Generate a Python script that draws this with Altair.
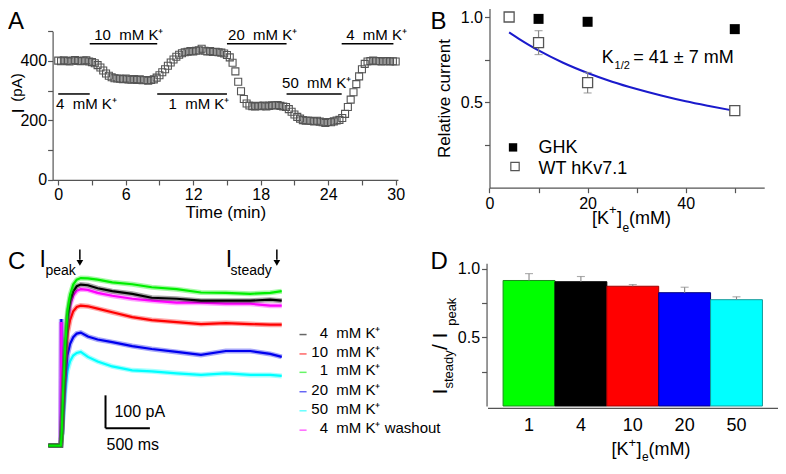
import altair as alt
import pandas as pd

FONT = "Liberation Sans"
W, H = 770, 455


def X(r):
    return (r - 4) * 770 / 782


def Y(r):
    return (r - 2) * H / 471


# ---------------- Panel A : current vs time ----------------
a_current = [
    401, 399, 402, 400,   # 0 min
    398, 401, 403, 400,   # 1
    399, 401, 402, 398,   # 2
    396, 392, 386, 378,   # 3
    368, 358, 350, 345,   # 4
    342, 341, 340, 339,   # 5
    341, 338, 337, 339,   # 6
    336, 338, 335, 336,   # 7
    334, 336, 338, 344,   # 8
    352, 362, 372, 384,   # 9
    395, 405, 414, 421,   # 10
    426, 429, 431, 433,   # 11
    432, 434, 436, 441,   # 12
    434, 432, 433, 430,   # 13
    431, 429, 428, 425,   # 14
    420, 412, 394, 365,   # 15
    330, 298, 272, 257,   # 16
    250, 248, 247, 249,   # 17
    248, 250, 247, 249,   # 18
    251, 250, 252, 249,   # 19
    247, 245, 238, 229,   # 20
    220, 212, 206, 201,   # 21
    199, 200, 198, 197,   # 22
    199, 196, 194, 192,   # 23
    195, 194, 197, 200,   # 24
    202, 208, 222, 245,   # 25
    270, 295, 322, 348,   # 26
    372, 390, 398, 400,   # 27
    401, 399, 400, 398,   # 28
    399, 400, 398, 399,   # 29
    398,                  # 30
]
a_step_min = 0.25
a_time = [i * a_step_min for i in range(len(a_current))]

a_cond_text = ["4\u00a0 mM K\u207a", "10\u00a0 mM K\u207a", "1\u00a0 mM K\u207a",
               "20\u00a0 mM K\u207a", "50\u00a0 mM K\u207a", "4\u00a0 mM K\u207a"]
a_cond_start = [0.0, 2.8, 8.8, 15.0, 20.3, 25.2]
a_cond_end = [2.8, 8.8, 15.0, 20.3, 25.2, 29.8]
a_cond_bar_pA = [289, 458, 289, 458, 289, 458]
a_cond_text_t = [-0.2, 3.2, 9.8, 15.1, 19.9, 25.6]
a_cond_text_pA = [240, 471, 237, 471, 308, 471]

# ---------------- Panel B : relative current ----------------
b_ghk_conc = [10, 20, 50]
b_ghk_rel = [0.989, 0.972, 0.929]
b_wt_conc = [4, 10, 20, 50]
b_wt_rel = [1.0, 0.85, 0.615, 0.452]
b_wt_err = [0.0, 0.07, 0.06, 0.025]
b_fit_conc = [4, 6, 8, 10, 15, 20, 25, 30, 35, 40, 45, 50]
b_fit_rel = [0.91, 0.872, 0.837, 0.804, 0.732, 0.672, 0.621, 0.578, 0.54, 0.506, 0.477, 0.45]

# ---------------- Panel C : current traces ----------------
c_time_ms = [0, 130, 140, 146, 152, 165, 190, 215, 245, 280, 320, 365, 445, 555,
             720, 945, 1165, 1445, 1720, 2000, 2275, 2500, 2630]
c_4mM = [0, 0, 0, 20, 49, 147, 294, 392, 441, 470, 485, 490, 488, 479, 470, 462, 450,
         447, 441, 441, 441, 444, 441]
c_10mM = [0, 0, 0, 18, 43, 128, 256, 341, 383, 409, 422, 426, 424, 417, 406, 391, 382,
          376, 370, 373, 370, 368, 368]
c_1mM = [0, 0, 0, 20, 50, 155, 305, 410, 460, 490, 505, 510, 509, 505, 497, 491, 482,
         476, 466, 465, 462, 465, 470]
c_20mM = [0, 0, 0, 385, 34, 103, 206, 275, 310, 330, 341, 344, 332, 323, 315, 303, 294,
          285, 276, 288, 288, 279, 270]
c_50mM = [0, 0, 0, 12, 29, 86, 171, 228, 257, 274, 282, 285, 270, 256, 241, 229, 226,
          220, 215, 220, 215, 215, 212]
c_4mM_wash = [0, 0, 0, 376, 48, 143, 286, 381, 428, 457, 471, 476, 474, 465, 456, 447,
              441, 435, 435, 432, 432, 426, 426]
c_legend_num = ["4", "10", "1", "20", "50", "4"]
c_legend_rest = ["mM K\u207a", "mM K\u207a", "mM K\u207a", "mM K\u207a", "mM K\u207a",
                 "mM K\u207a washout"]

# ---------------- Panel D : steady/peak ratio ----------------
d_conc = ["1", "4", "10", "20", "50"]
d_ratio = [0.915, 0.906, 0.873, 0.826, 0.775]
d_err = [0.05, 0.038, 0.012, 0.04, 0.021]

# ---------------- styles ----------------
d_fill = ["#00ff00", "#000000", "#ff0000", "#0000ff", "#00ffff"]
d_edge = ["#1c8c1c", "#000000", "#a00000", "#000080", "#169a9a"]
c_colors = {"4": "#000000", "10": "#ff0000", "1": "#00ee00", "20": "#0000ee",
            "50": "#00ffff", "4w": "#ff00ff"}

ax = dict(domainColor="#555555", tickColor="#555555", labelColor="black",
          labelFont=FONT, labelFontSize=16, titleFont=FONT, titleFontSize=17,
          titleFontWeight="normal", titleColor="black", grid=False,
          labelFlush=False, labelOverlap=False, domainWidth=1.2, tickWidth=1.2,
          tickSize=5)


def txt(x, y, s, size, align="left", baseline="alphabetic", angle=0, color="black"):
    return alt.Chart(pd.DataFrame({"s": [s]})).mark_text(
        font=FONT, fontSize=size, align=align, baseline=baseline, angle=angle,
        color=color).encode(x=alt.value(x), y=alt.value(y), text="s:N")


# ===== Panel A =====
a_x = alt.Scale(domain=[-0.5, 30.2], range=[X(49.3), X(400)], nice=False, zero=False)
a_y = alt.Scale(domain=[0, 500], range=[Y(180), Y(26)], nice=False, zero=False)
a_xax = alt.Axis(orient="bottom", offset=Y(180) - H, values=list(range(0, 31, 3)),
                 labelExpr="datum.value % 6 === 0 ? datum.label : ''", title="Time (min)",
                 labelPadding=2, titlePadding=2, **ax)
a_yax = alt.Axis(orient="left", offset=-X(49.3), values=[0, 100, 200, 300, 400, 500],
                 labelExpr="datum.value % 200 === 0 ? datum.label : ''", title=None,
                 labelPadding=1, **ax)


def ax_(f):
    return alt.X(f, scale=a_x, axis=a_xax)


def ay_(f):
    return alt.Y(f, scale=a_y, axis=a_yax)


df_a = pd.DataFrame({"t": a_time, "I": a_current})
df_acond = pd.DataFrame({"lab": a_cond_text, "t0": a_cond_start, "t1": a_cond_end,
                         "yb": a_cond_bar_pA, "tx": a_cond_text_t, "ty": a_cond_text_pA})

a_pts = alt.Chart(df_a).mark_square(size=49, filled=False, color="#555555",
                                    strokeWidth=1.1, opacity=1).encode(
    x=ax_("t:Q"), y=ay_("I:Q"))
a_bars = alt.Chart(df_acond).mark_rule(color="black", strokeWidth=1.5).encode(
    x=ax_("t0:Q"), x2="t1:Q", y=ay_("yb:Q"))
a_labs = alt.Chart(df_acond).mark_text(font=FONT, fontSize=15, align="left",
                                       baseline="alphabetic").encode(
    x=ax_("tx:Q"), y=ay_("ty:Q"), text="lab:N")
panel_a = alt.layer(a_pts, a_bars, a_labs)

# ===== Panel B =====
b_x = alt.Scale(domain=[0, 56], range=[X(493), X(772)], nice=False, zero=False)
b_y = alt.Scale(domain=[0, 1.05], range=[Y(188), Y(2.5)], nice=False, zero=False)
b_xax = alt.Axis(orient="bottom", offset=Y(188) - H, values=[0, 10, 20, 30, 40, 50],
                 labelExpr="datum.value % 20 === 0 ? datum.label : ''", title=None,
                 labelPadding=3, **ax)
b_yax = alt.Axis(orient="left", offset=-X(493), values=[0.25, 0.5, 0.75, 1.0],
                 labelExpr="datum.value === 0.5 || datum.value === 1 ? format(datum.value, '.1f') : ''",
                 title="Relative current", titlePadding=7, labelPadding=2, **ax)


def bx_(f):
    return alt.X(f, scale=b_x, axis=b_xax)


def by_(f):
    return alt.Y(f, scale=b_y, axis=b_yax)


df_ghk = pd.DataFrame({"c": b_ghk_conc, "r": b_ghk_rel})
df_wt = pd.DataFrame({"c": b_wt_conc, "r": b_wt_rel, "e": b_wt_err})
df_wt["lo"] = df_wt["r"] - df_wt["e"]
df_wt["hi"] = df_wt["r"] + df_wt["e"]
df_wte = df_wt[df_wt["e"] > 0]
df_fit = pd.DataFrame({"c": b_fit_conc, "r": b_fit_rel})

b_fitline = alt.Chart(df_fit).mark_line(color="#1a1acc", strokeWidth=2,
                                        interpolate="monotone").encode(
    x=bx_("c:Q"), y=by_("r:Q"))
b_err = alt.Chart(df_wte).mark_rule(color="#888888", strokeWidth=1.2).encode(
    x=bx_("c:Q"), y=by_("lo:Q"), y2="hi:Q")
b_cap_hi = alt.Chart(df_wte).mark_tick(orient="horizontal", size=8, thickness=1.2,
                                       color="#888888").encode(x=bx_("c:Q"), y=by_("hi:Q"))
b_cap_lo = alt.Chart(df_wte).mark_tick(orient="horizontal", size=8, thickness=1.2,
                                       color="#888888").encode(x=bx_("c:Q"), y=by_("lo:Q"))
b_ghk_pts = alt.Chart(df_ghk).mark_square(size=100, color="black", opacity=1).encode(
    x=bx_("c:Q"), y=by_("r:Q"))
b_wt_pts = alt.Chart(df_wt).mark_square(size=100, fill="white", stroke="#555555",
                                        strokeWidth=1.3, opacity=1).encode(
    x=bx_("c:Q"), y=by_("r:Q"))

df_bleg = pd.DataFrame({"c": [4.8, 5.2], "r": [0.236, 0.124],
                        "tc": [10.0, 10.0], "tr": [0.23, 0.112],
                        "lab": ["GHK", "WT hKv7.1"]})
b_leg_m1 = alt.Chart(df_bleg.iloc[[0]]).mark_square(size=70, color="black", opacity=1).encode(
    x=bx_("c:Q"), y=by_("r:Q"))
b_leg_m2 = alt.Chart(df_bleg.iloc[[1]]).mark_square(size=70, fill="white", stroke="#555555",
                                                    strokeWidth=1.2, opacity=1).encode(
    x=bx_("c:Q"), y=by_("r:Q"))
b_leg_t = alt.Chart(df_bleg).mark_text(font=FONT, fontSize=18, align="left",
                                       baseline="middle").encode(
    x=bx_("tc:Q"), y=by_("tr:Q"), text="lab:N")
df_k = pd.DataFrame({"c": [22.9, 25.5, 29.3], "r": [0.729, 0.697, 0.729],
                     "s": ["K", "1/2", "= 41 \u00b1 7 mM"], "z": [18, 11, 18]})
b_k = alt.Chart(df_k).mark_text(font=FONT, align="left", baseline="alphabetic").encode(
    x=bx_("c:Q"), y=by_("r:Q"), text="s:N", size=alt.Size("z:Q", scale=None))
panel_b = alt.layer(b_fitline, b_err, b_cap_hi, b_cap_lo, b_ghk_pts, b_wt_pts,
                    b_leg_m1, b_leg_m2, b_leg_t, b_k)

# ===== Panel C =====
c_x = alt.Scale(domain=[0, 2630], range=[X(45), X(282)], nice=False, zero=False)
c_y = alt.Scale(domain=[0, 560], range=[Y(455), Y(455 - 560 / 2.94)], nice=False, zero=False)


def cx_(f):
    return alt.X(f, scale=c_x, axis=None)


def cy_(f):
    return alt.Y(f, scale=c_y, axis=None)


traces = [("50", c_50mM), ("20", c_20mM), ("10", c_10mM), ("4w", c_4mM_wash),
          ("4", c_4mM), ("1", c_1mM)]
c_layers = []
for key, vals in traces:
    dfc = pd.DataFrame({"t": c_time_ms, "I": vals})
    c_layers.append(alt.Chart(dfc).mark_line(color=c_colors[key], strokeWidth=5,
                                             opacity=0.35).encode(x=cx_("t:Q"), y=cy_("I:Q")))
    c_layers.append(alt.Chart(dfc).mark_line(color=c_colors[key], strokeWidth=2.2).encode(
        x=cx_("t:Q"), y=cy_("I:Q")))

leg_I = [344, 285, 229, 170, 112, 53]
leg_keys = ["4", "10", "1", "20", "50", "4w"]
df_cleg = pd.DataFrame({"I": leg_I, "Il": [v - 6 for v in leg_I], "num": c_legend_num,
                        "rest": c_legend_rest, "col": [c_colors[k] for k in leg_keys],
                        "t0": [2830] * 6, "t1": [2910] * 6, "tn": [3152] * 6,
                        "tr": [3245] * 6})
c_leg_lines = alt.Chart(df_cleg).mark_rule(strokeWidth=1.5, opacity=0.6).encode(
    x=cx_("t0:Q"), x2="t1:Q", y=cy_("Il:Q"), color=alt.Color("col:N", scale=None))
c_leg_num = alt.Chart(df_cleg).mark_text(font=FONT, fontSize=15, align="right",
                                         baseline="middle").encode(
    x=cx_("tn:Q"), y=cy_("I:Q"), text="num:N")
c_leg_rest = alt.Chart(df_cleg).mark_text(font=FONT, fontSize=15, align="left",
                                          baseline="middle").encode(
    x=cx_("tr:Q"), y=cy_("I:Q"), text="rest:N")

# scale bar (100 pA, 500 ms)
df_sb_v = pd.DataFrame({"t": [644], "I0": [53], "I1": [153]})
df_sb_h = pd.DataFrame({"t0": [644], "t1": [1144], "I": [53]})
c_sb_v = alt.Chart(df_sb_v).mark_rule(color="black", strokeWidth=2).encode(
    x=cx_("t:Q"), y=cy_("I0:Q"), y2="I1:Q")
c_sb_h = alt.Chart(df_sb_h).mark_rule(color="black", strokeWidth=2).encode(
    x=cx_("t0:Q"), x2="t1:Q", y=cy_("I:Q"))
df_sbt = pd.DataFrame({"t": [744, 655], "I": [103, 3], "s": ["100 pA", "500 ms"]})
c_sbt = alt.Chart(df_sbt).mark_text(font=FONT, fontSize=16, align="left",
                                    baseline="middle").encode(
    x=cx_("t:Q"), y=cy_("I:Q"), text="s:N")

# I_peak / I_steady labels and arrows
df_ilab = pd.DataFrame({"t": [-100, -33, 1998, 2054], "I": [544, 520, 544, 520],
                        "s": ["I", "peak", "I", "steady"], "z": [23, 14, 23, 14]})
c_ilab = alt.Chart(df_ilab).mark_text(font=FONT, align="left", baseline="alphabetic").encode(
    x=cx_("t:Q"), y=cy_("I:Q"), text="s:N", size=alt.Size("z:Q", scale=None))
df_arrow = pd.DataFrame({"t": [355, 2575], "I0": [597, 597], "I1": [566, 566], "Ih": [556, 556]})
c_arr = alt.Chart(df_arrow).mark_rule(color="black", strokeWidth=1.5).encode(
    x=cx_("t:Q"), y=cy_("I0:Q"), y2="I1:Q")
c_head = alt.Chart(df_arrow).mark_point(shape="triangle-down", filled=True, size=45,
                                        color="black", opacity=1).encode(
    x=cx_("t:Q"), y=cy_("Ih:Q"))
panel_c = alt.layer(*c_layers, c_leg_lines, c_leg_num, c_leg_rest, c_sb_v, c_sb_h, c_sbt,
                    c_ilab, c_arr, c_head)

# ===== Panel D =====
d_x = alt.Scale(domain=d_conc, range=[X(491), X(786)], paddingInner=0, paddingOuter=0.3)
d_y = alt.Scale(domain=[0, 1.04], range=[Y(414), Y(414 - 1.04 * 142)], nice=False, zero=False)
d_xax = alt.Axis(orient="bottom", offset=Y(416) - H, ticks=False, labelPadding=9,
                 labelAngle=0, title=None, **{**ax, "labelFontSize": 18})
d_yax = alt.Axis(orient="left", offset=-X(490), values=[0.25, 0.5, 0.75, 1.0],
                 labelExpr="datum.value === 0.5 || datum.value === 1 ? format(datum.value, '.1f') : ''",
                 title=None, labelPadding=2, **ax)


def dx_(f):
    return alt.X(f, scale=d_x, sort=None, axis=d_xax)


def dy_(f):
    return alt.Y(f, scale=d_y, axis=d_yax)


df_d = pd.DataFrame({"k": d_conc, "v": d_ratio, "hi": [v + e for v, e in zip(d_ratio, d_err)],
                     "fill": d_fill, "edge": d_edge})
d_bars = alt.Chart(df_d).mark_bar(strokeWidth=1).encode(
    x=dx_("k:N"), y=dy_("v:Q"),
    fill=alt.Fill("fill:N", scale=None), stroke=alt.Stroke("edge:N", scale=None))
d_err_r = alt.Chart(df_d).mark_rule(color="#888888", strokeWidth=1.1).encode(
    x=dx_("k:N"), y=dy_("v:Q"), y2="hi:Q")
d_err_c = alt.Chart(df_d).mark_tick(orient="horizontal", size=8, thickness=1.1,
                                    color="#888888").encode(x=dx_("k:N"), y=dy_("hi:Q"))
panel_d = alt.layer(d_bars, d_err_r, d_err_c)

# ===== free text: panel letters and composite titles =====
bx0 = X(597)
dx0 = X(617)
texts = [
    txt(0, Y(24), "A", 24),
    txt(X(433), Y(24), "B", 24),
    txt(0, Y(272), "C", 24),
    txt(X(433), Y(272), "D", 24),
    # A y title  "I (pA)"
    txt(16, Y(111), "I", 17, angle=270),
    txt(14, Y(99), "(pA)", 15, angle=270),
    # B x title  [K+]e(mM)
    txt(bx0, Y(226), "[K", 18),
    txt(bx0 + 17, Y(215), "+", 13),
    txt(bx0 + 25, Y(226), "]", 18),
    txt(bx0 + 30.5, Y(234), "e", 12),
    txt(bx0 + 37, Y(226), "(mM)", 18),
    # D x title
    txt(dx0, Y(465), "[K", 18),
    txt(dx0 + 17, Y(456), "+", 13),
    txt(dx0 + 25, Y(465), "]", 18),
    txt(dx0 + 30.5, Y(471), "e", 12),
    txt(dx0 + 37, Y(465), "(mM)", 18),
    # D y title  I_steady / I_peak
    txt(X(450), Y(402), "I", 21, angle=270),
    txt(X(456), Y(396), "steady", 13, angle=270),
    txt(X(450), Y(356), "/", 21, angle=270),
    txt(X(450), Y(344), "I", 21, angle=270),
    txt(X(459), Y(331), "peak", 13, angle=270),
]

chart = alt.layer(panel_a, panel_b, panel_c, panel_d, *texts).resolve_scale(
    x="independent", y="independent").resolve_axis(
    x="independent", y="independent").properties(
    width=W, height=H, padding=0, autosize=alt.AutoSizeParams(type="none")
).configure_view(stroke=None)

chart.save("out.html", embed_options={"renderer": "svg", "actions": False})
